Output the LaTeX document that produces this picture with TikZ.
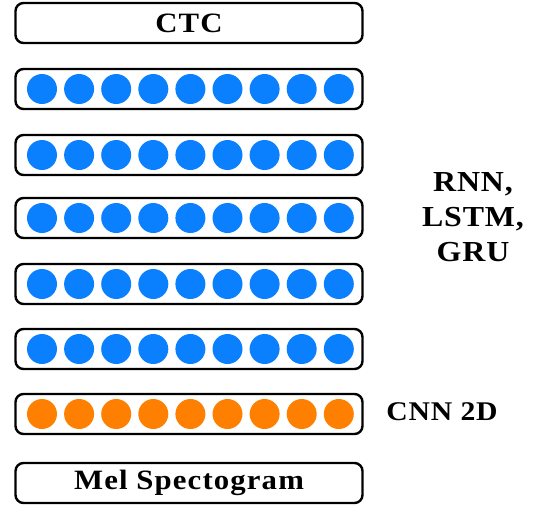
\documentclass[tikz,border=0pt]{standalone}
\usepackage{fontspec}
\setmainfont{Liberation Serif}
\newfontfamily\boxfont[FakeStretch=1.1,LetterSpace=4]{Liberation Serif}
\newfontfamily\lblfont[FakeStretch=1.1,LetterSpace=3]{Liberation Serif}
\definecolor{dotblue}{RGB}{10,128,255}
\definecolor{dotorange}{RGB}{255,128,0}
\begin{document}
\begin{tikzpicture}[x=1pt,y=-1pt,
  layer/.style={draw=black, line width=2.4pt, rounded corners=8pt, minimum width=347pt, minimum height=40pt, inner sep=0pt, font=\boxfont\bfseries\fontsize{28}{30}\selectfont},
  dot/.style={circle, fill=#1, minimum size=30pt, inner sep=0pt},
  lbl/.style={font=\lblfont\bfseries\fontsize{29}{35}\selectfont, align=center}]
\useasboundingbox (0,0) rectangle (539,507);
\node[layer] (ctc) at (189,23) {CTC};
\foreach \r/\y in {1/89,2/155,3/218,4/284,5/349}{
  \node[layer] (r\r) at (189,\y) {};
  \foreach \i in {0,...,8}{
    \node[dot=dotblue] (d\r-\i) at (42+37.1*\i,\y) {};
  }
}
\node[layer] (cnn) at (189,414) {};
\foreach \i in {0,...,8}{
  \node[dot=dotorange] (c-\i) at (42+37.1*\i,414) {};
}
\node[layer] (mel) at (189,483) {Mel Spectogram};
\node[lbl] (rnn) at (473,217) {RNN,\\LSTM,\\GRU};
\node[lbl, font=\lblfont\bfseries\fontsize{27}{35}\selectfont] (cnnl) at (442,412) {CNN 2D};
\end{tikzpicture}
\end{document}
